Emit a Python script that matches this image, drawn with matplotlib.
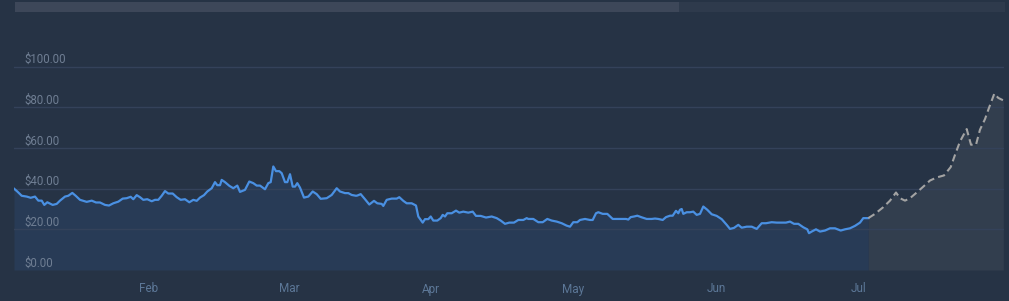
import matplotlib
matplotlib.use('Agg')
import matplotlib.pyplot as plt

# time axis: arbitrary step units from the left edge of the chart
t_hist = [0, 3.3, 7.7, 12.7, 16.7, 21, 24.3, 27.7, 30.3, 33.3, 38.7, 42.7, 46, 51, 54.3, 58.3,
          61.7, 66, 72.7, 77.7, 82, 86, 91, 95, 99.3, 104.3, 108.7, 112.7, 116.7, 119.3, 122.7,
          126, 129.3, 133.3, 137.7, 141, 144.3, 147.7, 151, 154.3, 158.7, 162.7, 166.7, 171, 175.3,
          179.3, 182.7, 186, 190, 193.3, 197.7, 201, 203.3, 206, 207.7, 211, 215.3, 219.3, 223.3,
          226, 231, 235.3, 239.3, 242.7, 246, 251, 254.3, 256.7, 259.3, 262, 265.3, 267.7, 271,
          273.3, 276, 278.7, 281, 283.3, 286, 290, 294.3, 298.7, 302.7, 306.7, 312.7, 317.7, 322.7,
          326, 331, 334.3, 337.7, 342,
          343.3, 346.7, 351, 355.3, 360, 363.3, 367.7, 369.3, 372.7, 377.7, 382.7, 385.3, 389.3,
          392.7, 397.7, 402, 404.3, 408.7, 411, 414.3, 416.7, 419.3, 423.3, 426.7, 428.7, 431,
          433.3, 437.7, 442, 445.3, 449.3, 454.3, 458.7, 462, 466.7, 472, 477.7, 482.7, 486.7, 491,
          495.3, 500, 504.3, 509.3, 512.7,
          514.3, 519.3, 524.3, 528.7, 533.3, 537.7, 542.7, 547.7, 552.7, 556, 559.3, 563.3, 566,
          571, 576, 578.7, 582, 584.3, 588.7, 593.3, 598.7, 602.7, 607.7, 612, 614.3, 616.7, 620,
          623.3, 627.7, 632.7, 637.7, 641, 644.3, 648.7, 652, 656, 658.7, 662, 664.3, 666, 667.7,
          669.3, 672.7, 676, 679.3, 682.7, 686,
          689.3, 693.3, 697.7, 702.7, 707.7, 712.7, 716, 720, 724.3, 727.7, 732.7, 737.7, 742.7,
          747.7, 752, 757.7, 762.7, 767.7, 772, 776, 780, 784.3, 789.3, 793.3, 795, 797.7, 802,
          806, 811, 816, 821, 826.7, 831, 836, 841, 846, 849.3, 854.3]
price_hist = [40, 38.6, 36.5, 36.1, 35.5, 36.1, 34.1, 34.1, 32, 33.3, 32, 32.5, 34.1, 36.1, 36.5, 37.9,
              36.5, 34.5, 33.5, 34.1, 33.2, 33.2, 32, 31.7, 32.8, 33.6, 35.1, 35.3, 36, 34.8, 36.8,
              35.8, 34.5, 34.8, 33.8, 34.5, 34.5, 36.5, 38.8, 37.6, 37.6, 35.8, 34.5, 34.8, 33.3,
              34.5, 34, 35.6, 36.8, 38.6, 40.2, 43.2, 41.7, 41.7, 44.3, 43.2, 41.4, 40.2, 41.5,
              38.4, 39.4, 43.5, 42.7, 41.5, 41.5, 39.7, 42.7, 43.2, 50.9, 48.6, 48.6, 47.6, 43.2,
              43.2, 47.1, 41, 41, 42.7, 40.5, 35.6, 36.1, 38.6, 37.3, 35, 35.3, 36.9, 40.2,
              38.6, 37.8, 37.8, 36.9, 36.5,
              36.6, 37.3, 34.8, 32.2, 34, 32.8, 32.5, 31.5, 34.5, 35.1, 35.1, 35.8, 34,
              32.8, 32.8, 31.7, 26.3, 23.3, 25, 25, 26.3, 24.3, 24.3, 25.5, 27.1, 26.3,
              27.9, 27.9, 29.2, 28.2, 28.7, 28.2, 28.7, 26.6, 26.6, 25.8, 26.3, 25.5, 24.3, 22.7,
              23.3, 23.3, 24.6, 24.6, 25.5,
              25.1, 25.1, 23.5, 23.5, 25.1, 24.3, 23.8, 23, 21.8, 21.3, 23.5, 23.5, 24.6,
              25.1, 24.6, 24.6, 27.9, 28.4, 27.6, 27.6, 25.1, 25.1, 25.1, 25.1, 24.8, 26, 26.3,
              26.7, 25.9, 25.1, 25.1, 25.3, 25.1, 24.6, 26, 26.7, 26.7, 29.1, 27.9, 29.6, 30,
              27.6, 28.4, 28.4, 28.7, 27.1, 27.6,
              31.2, 29.6, 27.4, 26.6, 25, 22.2, 20.2, 20.7, 22.2, 20.8, 21.3, 21.3, 20.2,
              23, 23, 23.5, 23.3, 23.3, 23.3, 23.8, 22.7, 22.7, 21, 20, 18.1, 18.9, 20,
              18.9, 19.4, 20.5, 20.5, 19.4, 20, 20.5, 21.7, 23.3, 25.5, 25.5]

t_fcst = [854.3, 861, 869.3, 876, 882, 886, 891, 896, 902.7, 909.3, 916, 922.7, 930, 936.7,
          941, 946, 952.7, 957, 962, 966, 971, 974.3, 980.3, 984.3, 989.3]
price_fcst = [25.5, 27.6, 30.9, 34.1, 38.1, 35.3, 34.1, 35.3, 38.1, 41, 44, 45.5, 46.5, 50.6,
              56.6, 63.2, 69.3, 61.6, 61.6, 69, 74.2, 78.8, 86.7, 84.6, 83.4]

month_ticks = [135, 275, 417, 559, 702, 845]
month_labels = ['Feb', 'Mar', 'Apr', 'May', 'Jun', 'Jul']
price_grid = [0, 20, 40, 60, 80, 100]

bg = '#263345'
W, H = 1009, 301
fig = plt.figure(figsize=(W / 100, H / 100), dpi=100, facecolor=bg)

# chart area
ax = fig.add_axes([14 / W, 31 / H, 990 / W, 240 / H])
ax.set_facecolor(bg)
ax.set_xlim(0, 990)
ax.set_ylim(0, 118)

ax.fill_between(t_hist, price_hist, 0, color='#283b56', lw=0, zorder=1)
ax.fill_between(t_fcst, price_fcst, 0, color='#323e4e', lw=0, zorder=1)
for v in price_grid[1:]:
    ax.axhline(v, color='#34425a', lw=1, zorder=2)
ax.plot(t_hist, price_hist, color='#4a90e2', lw=1.6, zorder=4, solid_joinstyle='round')
ax.plot(t_fcst, price_fcst, color='#a3a3a3', lw=1.5, ls=(0, (3.5, 2)), zorder=4)

for v in price_grid:
    ax.text(10, v + 1.7, '${:.2f}'.format(v), color='#6f7e93', fontsize=8.3,
            family='Roboto', va='baseline', ha='left', zorder=5)

ax.set_xticks(month_ticks)
ax.set_xticklabels(month_labels)
ax.tick_params(axis='x', length=0, pad=9, colors='#5c7797', labelsize=8.5)
ax.set_yticks([])
for lab in ax.get_xticklabels():
    lab.set_family('Roboto')
for s in ax.spines.values():
    s.set_visible(False)

# scrollbar on top
sb = fig.add_axes([15 / W, (H - 12) / H, 990 / W, 10 / H])
sb.set_facecolor('#2e3a4c')
sb.set_xlim(0, 1)
sb.set_ylim(0, 1)
sb.axvspan(0, 0.671, color='#3d4759', lw=0)
sb.set_xticks([])
sb.set_yticks([])
for s in sb.spines.values():
    s.set_visible(False)

fig.savefig('out.png', dpi=100, facecolor=bg)
